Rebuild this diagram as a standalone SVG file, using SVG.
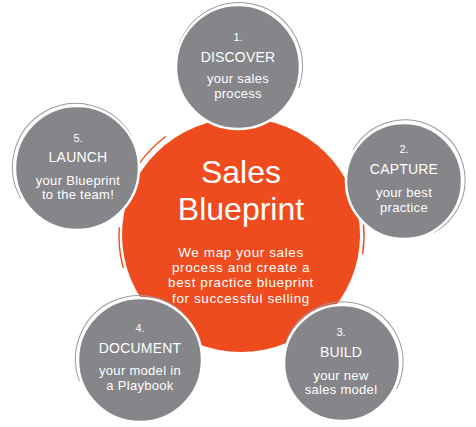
<svg xmlns="http://www.w3.org/2000/svg" width="476" height="427" viewBox="0 0 476 427">
<style>
.bg{fill:#ffffff}
.hub{fill:#EE4C1E}
.hubarc{fill:none;stroke:#EE4C1E;stroke-width:1.4;stroke-linecap:round}
.disc{fill:#86858A;stroke:#ffffff;stroke-width:2.5}
.brush{fill:none;stroke:#9A999E;stroke-width:1;stroke-linecap:round}
text{font-family:"Liberation Sans",Arial,sans-serif;fill:#ffffff;text-anchor:middle}
.num{font-size:11px}
.head{font-size:14px;letter-spacing:0.2px}
.sub{font-size:13px;letter-spacing:0.3px}
.title{font-size:32px}
.body{font-size:13.5px;letter-spacing:0.6px}
</style>
<rect class="bg" x="0" y="0" width="476" height="427"/>
<g id="hub">
  <ellipse class="hub" cx="241" cy="235" rx="119" ry="117"/>
  <circle class="hubarc" cx="239" cy="234" r="122" stroke-dasharray="70 703" transform="rotate(200 239 234)"/>
  <circle class="hubarc" cx="243" cy="236" r="121" stroke-dasharray="60 713" transform="rotate(-20 243 236)"/>
  <circle class="hubarc" cx="240" cy="236" r="121" stroke-dasharray="40 727" transform="rotate(165 240 236)"/>
  <text class="title" x="241" y="183">Sales</text>
  <text class="title" x="241" y="220">Blueprint</text>
  <text class="body" x="241" y="257">We map your sales</text>
  <text class="body" x="241" y="272">process and create a</text>
  <text class="body" x="241" y="287">best practice blueprint</text>
  <text class="body" x="241" y="303">for successful selling</text>
</g>
<g id="discover">
  <circle class="brush" cx="239" cy="66" r="63.5" stroke-dasharray="210 192" transform="rotate(-170 239 66)"/>
  <circle class="disc" cx="238" cy="67" r="62"/>
  <text class="num" x="238" y="41">1.</text>
  <text class="head" x="238" y="62">DISCOVER</text>
  <text class="sub" x="238" y="83">your sales</text>
  <text class="sub" x="238" y="98">process</text>
</g>
<g id="capture">
  <circle class="brush" cx="405" cy="180" r="60" stroke-dasharray="220 163" transform="rotate(-150 405 180)"/>
  <circle class="disc" cx="404" cy="181" r="58"/>
  <text class="num" x="404" y="153">2.</text>
  <text class="head" x="404" y="174">CAPTURE</text>
  <text class="sub" x="404" y="197">your best</text>
  <text class="sub" x="404" y="212">practice</text>
</g>
<g id="launch">
  <circle class="brush" cx="76" cy="167" r="63.5" stroke-dasharray="200 202" transform="rotate(150 76 167)"/>
  <circle class="disc" cx="77" cy="168" r="62"/>
  <text class="num" x="78" y="142">5.</text>
  <text class="head" x="78" y="162">LAUNCH</text>
  <text class="sub" x="78" y="185">your Blueprint</text>
  <text class="sub" x="78" y="199">to the team!</text>
</g>
<g id="document">
  <circle class="brush" cx="139" cy="359" r="63.5" stroke-dasharray="170 232" transform="rotate(160 139 359)"/>
  <circle class="disc" cx="140" cy="360" r="62"/>
  <text class="num" x="140" y="332">4.</text>
  <text class="head" x="140" y="353">DOCUMENT</text>
  <text class="sub" x="140" y="375">your model in</text>
  <text class="sub" x="140" y="390">a Playbook</text>
</g>
<g id="build">
  <circle class="brush" cx="343" cy="362" r="60" stroke-dasharray="200 183" transform="rotate(-165 343 362)"/>
  <circle class="disc" cx="342" cy="363" r="58"/>
  <text class="num" x="341" y="336">3.</text>
  <text class="head" x="341" y="357">BUILD</text>
  <text class="sub" x="341" y="380">your new</text>
  <text class="sub" x="341" y="394">sales model</text>
</g>
<g id="connectors"></g>
</svg>
